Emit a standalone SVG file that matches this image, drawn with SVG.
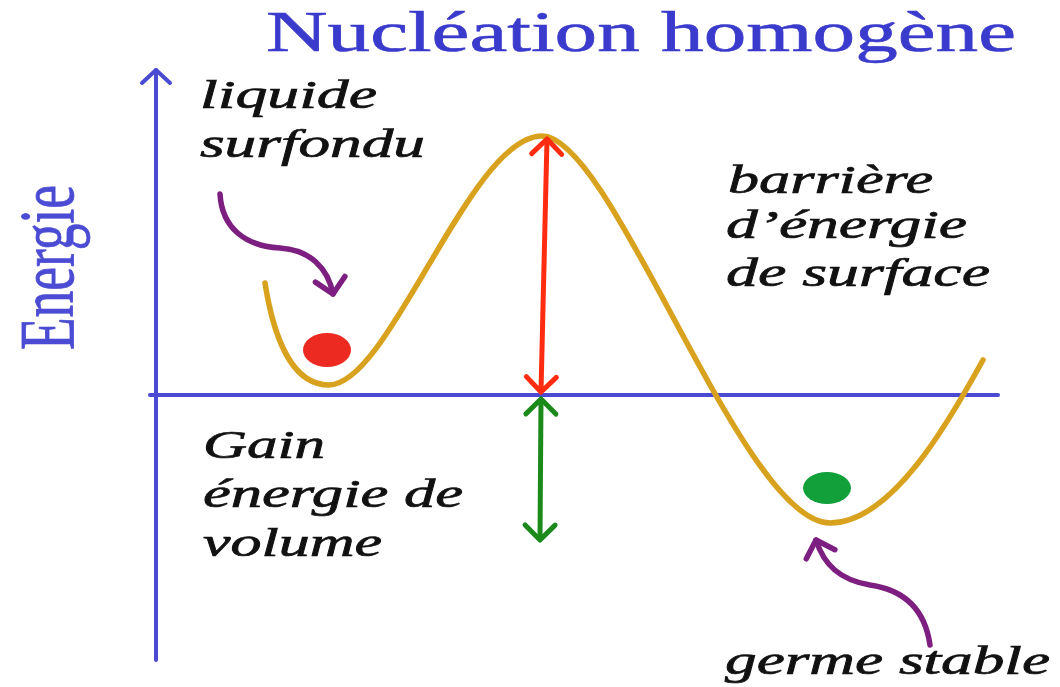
<svg xmlns="http://www.w3.org/2000/svg" width="1060" height="687" viewBox="0 0 1060 687">
<style>
.lbl{font-family:"Liberation Serif","Times New Roman",serif;font-style:italic;font-size:40px;fill:#111;stroke:#111;stroke-width:0.7;}
.title{font-family:"Liberation Serif","Times New Roman",serif;font-size:58px;fill:#3a3acc;stroke:#3a3acc;stroke-width:0.6;}
.yl{font-family:"Liberation Serif","Times New Roman",serif;font-size:78px;fill:#4b4bd4;stroke:#4b4bd4;stroke-width:0.8;}
.axis{stroke:#4a4ad2;stroke-width:4;fill:none;stroke-linecap:round;}
.curve{stroke:#d9a21e;stroke-width:5.5;fill:none;stroke-linecap:round;}
.purple{stroke:#7d1f80;stroke-width:5.5;fill:none;stroke-linecap:round;}
</style>
<defs>
<marker id="hb" viewBox="-20 -20 40 40" refX="0" refY="0" markerWidth="40" markerHeight="40" markerUnits="userSpaceOnUse" orient="auto-start-reverse"><path d="M-13,-14 L0,0 L-13,14" fill="none" stroke="#4a4ad2" stroke-width="4" stroke-linecap="round" stroke-linejoin="round"/></marker>
<marker id="hr" viewBox="-20 -20 40 40" refX="0" refY="0" markerWidth="40" markerHeight="40" markerUnits="userSpaceOnUse" orient="auto-start-reverse"><path d="M-15,-15 L0,0 L-15,15" fill="none" stroke="#ff2c12" stroke-width="5" stroke-linecap="round" stroke-linejoin="round"/></marker>
<marker id="hg" viewBox="-20 -20 40 40" refX="0" refY="0" markerWidth="40" markerHeight="40" markerUnits="userSpaceOnUse" orient="auto-start-reverse"><path d="M-15,-15 L0,0 L-15,15" fill="none" stroke="#1b8a1b" stroke-width="5" stroke-linecap="round" stroke-linejoin="round"/></marker>
<marker id="hp" viewBox="-20 -20 40 40" refX="0" refY="0" markerWidth="40" markerHeight="40" markerUnits="userSpaceOnUse" orient="auto"><path d="M-15,-15 L0,0 L-15,15" fill="none" stroke="#7d1f80" stroke-width="5.5" stroke-linecap="round" stroke-linejoin="round"/></marker>
</defs>
<rect width="1060" height="687" fill="#ffffff"/>

<g id="title"><text class="title" x="266" y="51" textLength="750" lengthAdjust="spacingAndGlyphs">Nucléation homogène</text></g>
<g id="ylabel"><text class="yl" transform="translate(73,350) rotate(-90)" x="0" y="0" textLength="165" lengthAdjust="spacingAndGlyphs">Energie</text></g>

<g id="axes">
<path class="axis" d="M156,660 L156,70" marker-end="url(#hb)"/>
<path class="axis" d="M150,395 L998,395"/>
</g>

<g id="energy-curve">
<path class="curve" d="M265,283 C274,340 293,385 329,385 C390,385 470,136 542,136 C613,136 742,523 830,523 C892,523 950,420 983,360"/>
</g>

<g id="liquid-dot"><ellipse cx="327" cy="350" rx="24" ry="17" fill="#ec2a22"/></g>
<g id="germ-dot"><ellipse cx="827" cy="488" rx="24" ry="16" fill="#12a03a"/></g>

<g id="connectors">
<path d="M547,139 L541,392" stroke="#ff2c12" stroke-width="5" fill="none" marker-start="url(#hr)" marker-end="url(#hr)"/>
<path d="M541,399 L540,540" stroke="#1b8a1b" stroke-width="5" fill="none" marker-start="url(#hg)" marker-end="url(#hg)"/>
<path class="purple" d="M220,194 C222,228 245,246 280,248 C310,250 328,268 333,294" marker-end="url(#hp)"/>
<path class="purple" d="M930,645 C925,610 905,590 870,585 C840,580 824,565 816,540" marker-end="url(#hp)"/>
</g>

<g id="label-liquide">
<text class="lbl" x="200" y="108" textLength="177" lengthAdjust="spacingAndGlyphs">liquide</text>
<text class="lbl" x="200" y="157" textLength="225" lengthAdjust="spacingAndGlyphs">surfondu</text>
</g>
<g id="label-barriere">
<text class="lbl" x="728" y="193" textLength="205" lengthAdjust="spacingAndGlyphs">barrière</text>
<text class="lbl" x="726" y="238" textLength="241" lengthAdjust="spacingAndGlyphs">d’énergie</text>
<text class="lbl" x="726" y="286" textLength="264" lengthAdjust="spacingAndGlyphs">de surface</text>
</g>
<g id="label-gain">
<text class="lbl" x="203" y="458" textLength="122" lengthAdjust="spacingAndGlyphs">Gain</text>
<text class="lbl" x="203" y="507" textLength="260" lengthAdjust="spacingAndGlyphs">énergie de</text>
<text class="lbl" x="203" y="556" textLength="179" lengthAdjust="spacingAndGlyphs">volume</text>
</g>
<g id="label-germe">
<text class="lbl" x="725" y="674" textLength="325" lengthAdjust="spacingAndGlyphs">germe stable</text>
</g>
</svg>
